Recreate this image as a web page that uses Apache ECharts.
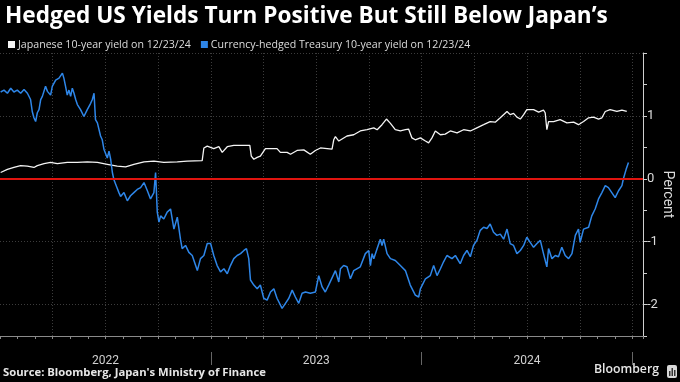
<!DOCTYPE html>
<html><head><meta charset="utf-8">
<script src="https://cdn.jsdelivr.net/npm/echarts@6/dist/echarts.min.js"></script>
<style>html,body{margin:0;padding:0;background:#000;}#c{width:680px;height:382px;}</style>
</head><body><div id="c"></div>
<script>
const titleText = 'Hedged US Yields Turn Positive But Still Below Japan’s';
const sourceText = "Source: Bloomberg, Japan's Ministry of Finance";
const seriesNames = ['Japanese 10-year yield on 12/23/24', 'Currency-hedged Treasury 10-year yield on 12/23/24'];
const yearLabels = [2022, 2023, 2024];
const yearBoundaries = [2023, 2024, 2025];
const yTickLabels = [-2, -1, 0, 1];

// time as fractional year
const whiteT = [2022.003,2022.035,2022.066,2022.098,2022.130,2022.161,2022.177,2022.209,2022.240,2022.272,2022.319,2022.367,2022.414,2022.462,2022.509,2022.556,2022.596,2022.635,2022.683,2022.730,2022.777,2022.841,2022.888,2022.959,2022.967,2022.983,2023.014,2023.038,2023.054,2023.078,2023.109,2023.141,2023.185,2023.192,2023.204,2023.220,2023.235,2023.259,2023.283,2023.314,2023.330,2023.362,2023.378,2023.409,2023.441,2023.472,2023.496,2023.520,2023.552,2023.575,2023.583,2023.591,2023.607,2023.615,2023.646,2023.678,2023.709,2023.741,2023.773,2023.789,2023.812,2023.833,2023.852,2023.875,2023.899,2023.923,2023.938,2023.954,2023.970,2023.994,2024.018,2024.033,2024.049,2024.065,2024.089,2024.112,2024.136,2024.168,2024.199,2024.231,2024.262,2024.294,2024.325,2024.349,2024.373,2024.405,2024.420,2024.436,2024.452,2024.468,2024.484,2024.499,2024.531,2024.555,2024.578,2024.586,2024.594,2024.602,2024.626,2024.657,2024.689,2024.721,2024.744,2024.768,2024.792,2024.815,2024.839,2024.855,2024.871,2024.894,2024.926,2024.950,2024.973];
const whiteV = [0.10,0.15,0.18,0.21,0.20,0.18,0.21,0.24,0.26,0.24,0.26,0.26,0.27,0.26,0.23,0.20,0.19,0.23,0.27,0.28,0.26,0.27,0.28,0.29,0.49,0.52,0.48,0.51,0.42,0.51,0.53,0.53,0.53,0.36,0.31,0.34,0.36,0.48,0.48,0.48,0.42,0.42,0.39,0.45,0.46,0.39,0.45,0.49,0.48,0.47,0.62,0.67,0.60,0.62,0.68,0.70,0.76,0.78,0.81,0.78,0.86,0.95,0.88,0.78,0.76,0.78,0.79,0.65,0.62,0.65,0.60,0.57,0.65,0.76,0.70,0.71,0.76,0.73,0.78,0.76,0.81,0.86,0.91,0.90,0.97,1.07,1.02,1.04,0.98,0.95,1.02,1.10,1.10,1.06,1.09,1.05,0.78,0.91,0.91,0.94,0.89,0.90,0.86,0.91,0.97,0.98,0.95,0.97,1.07,1.10,1.07,1.09,1.07];

const blueT = [2022.003,2022.019,2022.035,2022.051,2022.066,2022.082,2022.098,2022.114,2022.130,2022.145,2022.153,2022.161,2022.169,2022.177,2022.185,2022.193,2022.201,2022.216,2022.225,2022.240,2022.248,2022.264,2022.280,2022.296,2022.303,2022.311,2022.319,2022.327,2022.335,2022.343,2022.351,2022.359,2022.367,2022.382,2022.398,2022.414,2022.430,2022.438,2022.446,2022.453,2022.462,2022.477,2022.485,2022.493,2022.509,2022.517,2022.525,2022.533,2022.540,2022.556,2022.564,2022.572,2022.588,2022.604,2022.619,2022.635,2022.651,2022.667,2022.683,2022.699,2022.714,2022.730,2022.738,2022.746,2022.754,2022.762,2022.777,2022.793,2022.809,2022.817,2022.825,2022.841,2022.848,2022.856,2022.864,2022.880,2022.896,2022.912,2022.928,2022.936,2022.951,2022.967,2022.983,2022.999,2023.014,2023.030,2023.046,2023.062,2023.078,2023.093,2023.109,2023.125,2023.141,2023.157,2023.169,2023.180,2023.188,2023.204,2023.220,2023.235,2023.251,2023.267,2023.283,2023.299,2023.314,2023.338,2023.354,2023.370,2023.386,2023.401,2023.417,2023.433,2023.449,2023.472,2023.496,2023.512,2023.528,2023.543,2023.559,2023.591,2023.607,2023.615,2023.630,2023.646,2023.662,2023.678,2023.709,2023.733,2023.749,2023.757,2023.765,2023.773,2023.789,2023.804,2023.812,2023.820,2023.836,2023.852,2023.875,2023.899,2023.923,2023.946,2023.970,2023.986,2023.994,2024.018,2024.041,2024.057,2024.073,2024.089,2024.104,2024.120,2024.144,2024.160,2024.183,2024.199,2024.215,2024.231,2024.246,2024.262,2024.278,2024.294,2024.310,2024.325,2024.341,2024.357,2024.373,2024.389,2024.405,2024.420,2024.436,2024.452,2024.468,2024.484,2024.499,2024.515,2024.531,2024.547,2024.563,2024.578,2024.594,2024.602,2024.618,2024.634,2024.649,2024.665,2024.681,2024.697,2024.713,2024.729,2024.744,2024.752,2024.768,2024.792,2024.807,2024.823,2024.839,2024.855,2024.871,2024.886,2024.902,2024.918,2024.934,2024.950,2024.957,2024.970,2024.981];
const blueV = [1.38,1.41,1.36,1.44,1.38,1.41,1.36,1.42,1.36,1.26,1.07,0.97,0.91,1.05,1.10,1.26,1.31,1.47,1.39,1.33,1.47,1.57,1.60,1.68,1.60,1.47,1.33,1.41,1.31,1.44,1.36,1.26,1.18,1.10,0.99,1.10,1.20,1.26,1.36,0.94,0.89,0.68,0.62,0.47,0.33,0.44,0.31,0.10,-0.01,-0.15,-0.22,-0.28,-0.22,-0.35,-0.27,-0.22,-0.17,-0.14,-0.06,-0.19,-0.32,-0.22,0.10,-0.53,-0.69,-0.59,-0.64,-0.53,-0.48,-0.64,-0.80,-0.61,-0.58,-0.96,-1.11,-1.06,-1.17,-1.22,-1.38,-1.46,-1.27,-1.22,-1.03,-1.03,-1.22,-1.38,-1.48,-1.43,-1.51,-1.38,-1.27,-1.22,-1.19,-1.14,-1.11,-1.27,-1.61,-1.69,-1.75,-1.69,-1.90,-1.93,-1.80,-1.75,-1.90,-2.06,-1.98,-1.90,-1.77,-1.88,-1.98,-1.82,-1.80,-1.82,-1.80,-1.54,-1.72,-1.80,-1.69,-1.46,-1.64,-1.43,-1.38,-1.40,-1.59,-1.46,-1.40,-1.19,-1.14,-1.38,-1.19,-1.27,-1.11,-0.96,-1.06,-0.96,-1.19,-1.27,-1.30,-1.38,-1.46,-1.69,-1.85,-1.88,-1.75,-1.59,-1.54,-1.38,-1.54,-1.43,-1.32,-1.22,-1.27,-1.22,-1.35,-1.22,-1.14,-1.24,-1.06,-0.98,-0.82,-0.77,-0.79,-0.72,-0.85,-0.90,-0.88,-0.96,-0.80,-1.03,-1.06,-1.19,-1.14,-1.06,-0.93,-1.01,-1.09,-1.03,-0.98,-1.19,-1.40,-1.11,-1.27,-1.22,-1.24,-1.09,-1.22,-1.27,-1.19,-0.90,-0.80,-1.01,-0.80,-0.77,-0.59,-0.48,-0.32,-0.22,-0.11,-0.14,-0.22,-0.30,-0.19,-0.11,0.00,0.15,0.26];

function fitFont(text, weight, family, width) {
  const ctx = document.createElement('canvas').getContext('2d');
  ctx.font = weight + ' 100px ' + family;
  return 100 * width / ctx.measureText(text).width;
}
const titleFamily = "'Open Sans', sans-serif";
const titleSize = fitFont(titleText, 'bold', titleFamily, 603);
const legendFamily = "'Open Sans', sans-serif";
const legendSize = Math.min(12, fitFont(seriesNames[0], 'normal', legendFamily, 173));
const sourceSize = fitFont(sourceText, 'bold', "'Open Sans', sans-serif", 263);
const brandSize = fitFont('Bloomberg', '600', "'Open Sans', sans-serif", 65);

const X_MIN = 2022, X_MAX = 2025.05;
const GRID_COLOR = '#3c3c3c';
const baseX = {
  type: 'value', min: X_MIN, max: X_MAX, position: 'bottom',
  axisLine: { show: false, onZero: false },
  axisTick: { show: false }, axisLabel: { show: false }, splitLine: { show: false }
};
const chart = echarts.init(document.getElementById('c'), null, { renderer: 'canvas' });
chart.setOption({
  backgroundColor: '#000',
  animation: false,
  title: {
    text: titleText, left: 0, top: 0,
    textStyle: { color: '#fff', fontWeight: 'bold', fontSize: titleSize, fontFamily: titleFamily }
  },
  legend: {
    left: 3, top: 34, icon: 'rect', itemWidth: 7, itemHeight: 7, itemGap: 10,
    textStyle: { color: '#ddd', fontSize: legendSize, fontFamily: legendFamily, padding: [0, 0, 0, -2] },
    data: seriesNames
  },
  grid: { left: 0, right: 37, top: 53, bottom: 46, containLabel: false, outerBoundsMode: 'none' },
  xAxis: [
    Object.assign({}, baseX, {
      interval: 1 / 12,
      axisLine: { show: true, onZero: false, lineStyle: { color: '#8a8a8a', width: 1 } },
      axisTick: { show: true, length: 3, lineStyle: { color: '#8a8a8a' } }
    }),
    Object.assign({}, baseX, {
      interval: 0.25,
      splitLine: { show: true, showMinLine: false, lineStyle: { color: GRID_COLOR, type: [1, 2], width: 1 } }
    }),
    Object.assign({}, baseX, {
      axisLabel: {
        show: true, margin: 19, color: '#d0d0d0', fontSize: 12, fontFamily: 'Roboto',
        customValues: yearLabels.map(y => y + 0.5),
        formatter: v => String(Math.floor(v))
      }
    }),
    Object.assign({}, baseX, {
      offset: 16,
      axisTick: { show: true, length: 13, customValues: yearBoundaries, lineStyle: { color: '#666' } }
    })
  ],
  yAxis: {
    type: 'value', position: 'right', min: -2.5, max: 2, interval: 0.5,
    axisLine: { show: true, lineStyle: { color: '#cfcfcf', width: 1 } },
    axisTick: { show: true, length: 4, lineStyle: { color: '#cfcfcf' } },
    axisLabel: {
      color: '#dcdcdc', fontSize: 13, fontFamily: 'Roboto', margin: 4,
      formatter: v => yTickLabels.includes(v) ? String(v) : ''
    },
    splitLine: { show: true, lineStyle: { color: ['transparent', GRID_COLOR], type: [1, 2], width: 1 } },
    name: 'Percent', nameLocation: 'middle', nameRotate: -90, nameGap: 17, nameMoveOverlap: false,
    nameTextStyle: { color: '#dcdcdc', fontSize: 14, fontFamily: 'Roboto' }
  },
  series: [
    {
      type: 'line', name: seriesNames[0], xAxisIndex: 0,
      data: whiteT.map((t, i) => [t, whiteV[i]]),
      symbol: 'none', showSymbol: false,
      lineStyle: { color: '#f4f4f4', width: 1.3 }, itemStyle: { color: '#f4f4f4' },
      markLine: {
        silent: true, symbol: 'none', label: { show: false },
        lineStyle: { color: '#e0140f', width: 2, type: 'solid' },
        data: [{ yAxis: 0 }]
      }
    },
    {
      type: 'line', name: seriesNames[1], xAxisIndex: 0,
      data: blueT.map((t, i) => [t, blueV[i]]),
      symbol: 'none', showSymbol: false,
      lineStyle: { color: '#2e86e8', width: 1.5 }, itemStyle: { color: '#2e86e8' }
    }
  ],
  graphic: [
    { type: 'text', left: 3, top: 367, style: { text: sourceText, fill: '#e6e6e6', font: 'bold ' + sourceSize.toFixed(2) + "px 'Open Sans', sans-serif" } },
    { type: 'text', left: 594, top: 364, style: { text: 'Bloomberg', fill: '#e6e6e6', font: '600 ' + brandSize.toFixed(2) + "px 'Open Sans', sans-serif" } },
    { type: 'rect', left: 667, top: 365, shape: { width: 10, height: 13, r: 2 }, style: { fill: '#d8d8d8' } },
    { type: 'rect', left: 669, top: 371, shape: { width: 1.5, height: 5 }, style: { fill: '#333' } },
    { type: 'rect', left: 671.5, top: 368, shape: { width: 1.5, height: 8 }, style: { fill: '#333' } },
    { type: 'rect', left: 674, top: 370, shape: { width: 1.5, height: 6 }, style: { fill: '#333' } }
  ]
});
</script>
</body></html>
